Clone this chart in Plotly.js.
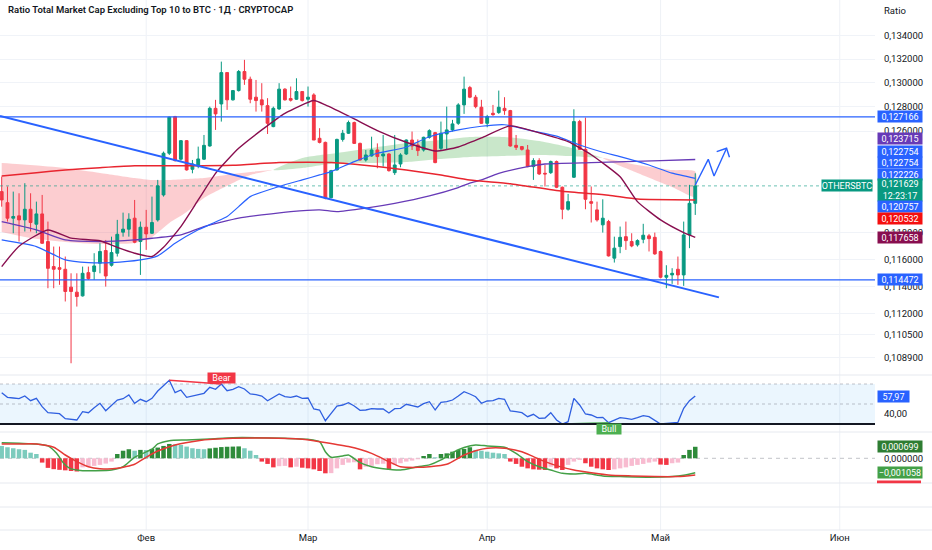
<!DOCTYPE html>
<html><head><meta charset="utf-8">
<script src="https://cdn.plot.ly/plotly-3.0.1.min.js"></script>
<style>html,body{margin:0;padding:0;background:#fff;}#chart{width:932px;height:550px;}</style>
</head><body><div id="chart"></div>
<script>
// ---------- DATA ----------
const firstDay = '2025-01-07';
const opens = [0.12118,0.12032,0.11912,0.11930,0.11899,0.11981,0.11866,0.11945,0.11734,0.11546,
0.11538,0.11526,0.11394,0.11357,0.11330,0.11501,0.11509,0.11571,0.11666,0.11556,
0.11646,0.11805,0.11828,0.11912,0.11734,0.11843,0.11797,0.11899,0.12092,0.12422,
0.12719,0.12374,0.12523,0.12294,0.12321,0.12374,0.12480,0.12787,0.12823,0.13085,
0.12857,0.12934,0.13094,0.13029,0.12879,0.12857,0.12809,0.12637,0.12782,0.12946,
0.12868,0.12862,0.12926,0.12862,0.12898,0.12542,0.12509,0.12071,0.12289,0.12533,
0.12583,0.12670,0.12501,0.12368,0.12400,0.12448,0.12400,0.12416,0.12267,0.12336,
0.12416,0.12528,0.12488,0.12448,0.12550,0.12588,0.12461,0.12577,0.12610,0.12664,
0.12815,0.12959,0.12879,0.12796,0.12664,0.12746,0.12752,0.12787,0.12768,0.12485,
0.12475,0.12448,0.12315,0.12363,0.12262,0.12267,0.12355,0.12152,0.11981,0.12231,
0.12678,0.12453,0.12040,0.11976,0.11861,0.11886,0.11609,0.11696,0.11771,0.11734,
0.11709,0.11751,0.11777,0.11766,0.11659,0.11467,0.11484,0.11526,0.11484,0.11784,
0.12027];
const highs = [0.12236,0.12158,0.12118,0.12105,0.12184,0.12105,0.12040,0.12092,0.11886,0.11696,
0.11696,0.11621,0.11496,0.11496,0.11546,0.11546,0.11646,0.11721,0.11746,0.11771,
0.11899,0.11955,0.11950,0.12053,0.11886,0.11976,0.12079,0.12210,0.12435,0.12719,
0.12725,0.12528,0.12528,0.12368,0.12475,0.12569,0.12801,0.12857,0.13178,0.13085,
0.12939,0.13107,0.13193,0.13051,0.13023,0.12996,0.12871,0.12801,0.12996,0.12954,
0.12968,0.13037,0.12926,0.12968,0.12912,0.12624,0.12515,0.12289,0.12539,0.12610,
0.12686,0.12678,0.12507,0.12448,0.12555,0.12501,0.12569,0.12422,0.12569,0.12422,
0.12533,0.12597,0.12533,0.12555,0.12615,0.12594,0.12678,0.12801,0.12692,0.12829,
0.13051,0.12973,0.12898,0.12857,0.12733,0.12815,0.12934,0.12879,0.12774,0.12569,
0.12480,0.12488,0.12382,0.12382,0.12328,0.12363,0.12363,0.12158,0.12100,0.12779,
0.12692,0.12711,0.12158,0.12040,0.12058,0.11899,0.11771,0.11848,0.11886,0.11797,
0.11751,0.11869,0.11792,0.11802,0.11666,0.11556,0.11534,0.11621,0.11886,0.12171,
0.12262];
const lows = [0.12001,0.11886,0.11797,0.11734,0.11810,0.11810,0.11797,0.11716,0.11386,0.11386,
0.11411,0.11289,0.10848,0.11252,0.11325,0.11447,0.11447,0.11496,0.11398,0.11546,
0.11621,0.11771,0.11771,0.11721,0.11484,0.11671,0.11792,0.11886,0.12079,0.12408,
0.12355,0.12363,0.12283,0.12262,0.12302,0.12368,0.12475,0.12610,0.12678,0.12774,
0.12851,0.12926,0.12982,0.12829,0.12760,0.12760,0.12577,0.12632,0.12774,0.12851,
0.12843,0.12857,0.12843,0.12801,0.12528,0.12501,0.12058,0.12066,0.12283,0.12515,
0.12577,0.12496,0.12363,0.12355,0.12395,0.12302,0.12315,0.12275,0.12249,0.12310,
0.12408,0.12448,0.12400,0.12435,0.12539,0.12342,0.12448,0.12453,0.12597,0.12651,
0.12741,0.12871,0.12787,0.12659,0.12632,0.12725,0.12741,0.12733,0.12475,0.12448,
0.12443,0.12310,0.12210,0.12249,0.12158,0.12257,0.12145,0.11904,0.11970,0.12225,
0.12448,0.11981,0.11879,0.11886,0.11802,0.11621,0.11576,0.11646,0.11671,0.11691,
0.11696,0.11721,0.11659,0.11634,0.11459,0.11386,0.11418,0.11411,0.11403,0.11684,
0.11937];
const closes = [0.12053,0.11912,0.11925,0.11899,0.11981,0.11879,0.11945,0.11721,0.11533,0.11526,
0.11526,0.11362,0.11362,0.11325,0.11496,0.11457,0.11551,0.11659,0.11476,0.11651,
0.11789,0.11828,0.11904,0.11729,0.11843,0.11792,0.11879,0.12163,0.12422,0.12714,
0.12363,0.12523,0.12289,0.12336,0.12376,0.12485,0.12787,0.12741,0.13085,0.12857,
0.12934,0.13094,0.13029,0.12862,0.12851,0.12815,0.12664,0.12787,0.12946,0.12857,
0.12854,0.12926,0.12851,0.12879,0.12528,0.12509,0.12066,0.12283,0.12533,0.12583,
0.12670,0.12501,0.12368,0.12408,0.12448,0.12395,0.12416,0.12283,0.12328,0.12408,
0.12528,0.12480,0.12443,0.12550,0.12604,0.12347,0.12583,0.12610,0.12659,0.12815,
0.12946,0.12879,0.12801,0.12664,0.12719,0.12735,0.12796,0.12768,0.12480,0.12469,
0.12453,0.12315,0.12363,0.12257,0.12257,0.12355,0.12152,0.11981,0.12040,0.12678,
0.12453,0.12058,0.12027,0.11899,0.11912,0.11626,0.11684,0.11766,0.11741,0.11701,
0.11741,0.11782,0.11756,0.11641,0.11467,0.11481,0.11496,0.11484,0.11784,0.12027,
0.121629];

const rsiValues = [61.3,56.7,56,55.3,58,53.3,55.7,47.3,41.3,40.7,
40.3,35.3,35,34,42.3,41.3,46.3,50.7,43.3,49,
54,55.3,59,50.7,54.7,52.3,55.7,63,68.7,73.7,
61.3,64,56.7,58,59,60.7,66.7,64.7,70,63.3,
64.7,67.3,65,60,59.3,58,53.3,56.3,60,57.3,
56.7,58,55.7,56,45,44,33.3,40.7,48,49,
51.3,48,43.7,44,45.3,45,45,41,45.3,45.7,
49.7,48.3,47,50.3,52.3,44,51.7,52.3,54,58,
62.3,60,57.3,50.7,53,53.3,55.7,54.7,43,42.3,
41.3,37.3,39.7,35.7,36,41.3,34,30,32.3,55.7,
49,40,39,36.3,36.7,31.3,34,36.3,35.7,34.7,
36.3,38.3,37.3,34,30,30.7,31.3,31.7,45.7,53.3,
57.97];

const macdHist = [0.00075,0.00067,0.00061,0.00055,0.00051,0.00034,0.00026,-0.00026,-0.00058,-0.00066,
-0.0007,-0.00073,-0.00077,-0.0008,-0.00055,-0.0005,-0.00046,-0.0004,-0.00032,-0.0002,
0.00026,0.00046,0.00055,0.00046,0.00051,0.0005,0.00057,0.00065,0.00075,0.00087,
0.00085,0.00081,0.00071,0.00061,0.00057,0.00055,0.0006,0.00064,0.00068,0.0007,
0.00071,0.00072,0.00061,0.00046,0.0002,-0.0002,-0.00034,-0.00055,-0.00048,-0.00046,
-0.00055,-0.00051,-0.00057,-0.00061,-0.00067,-0.00077,-0.00091,-0.0009,-0.00061,-0.0004,
-0.00026,-0.00024,-0.00067,-0.00051,-0.00046,-0.00036,-0.00033,-0.00067,-0.0004,-0.0003,
-0.0002,-0.00014,-0.00006,0.00014,0.00026,0.00006,0.00026,0.0003,0.0004,0.00051,
0.00057,0.00067,0.00051,0.00046,0.0004,0.00034,0.0003,0.00026,-0.0002,-0.00034,
-0.00051,-0.00061,-0.00067,-0.00069,-0.00071,-0.00051,-0.00061,-0.00071,-0.0004,-0.0002,
-0.0001,-0.0003,-0.00051,-0.00061,-0.00067,-0.00071,-0.00067,-0.00061,-0.00055,-0.00046,
-0.0004,-0.00034,-0.00026,-0.0002,-0.00038,-0.0004,-0.0003,-0.00026,0.0002,0.00051,
0.000699];

const macdDates = ['2025-01-07','2025-01-10','2025-01-13','2025-01-15','2025-01-16 12:00','2025-01-17 17:00','2025-01-18 19:00','2025-01-21','2025-01-23','2025-01-26','2025-01-28','2025-01-30','2025-02-02','2025-02-03','2025-02-05','2025-02-08','2025-02-12','2025-02-16','2025-02-20','2025-02-25','2025-03-01','2025-03-03','2025-03-04','2025-03-05','2025-03-07','2025-03-08','2025-03-10','2025-03-12','2025-03-14','2025-03-17','2025-03-20','2025-03-22','2025-03-24','2025-03-26','2025-03-28','2025-03-30','2025-04-01','2025-04-04','2025-04-06','2025-04-08','2025-04-10','2025-04-12','2025-04-14','2025-04-16','2025-04-18','2025-04-21','2025-04-24','2025-04-29','2025-05-03','2025-05-05','2025-05-07'];
const macdLine = [0.00095,0.00091,0.00087,0.00075,0.0003,-0.0003,-0.00061,-0.00075,-0.00075,-0.00071,-0.00051,0.00006,0.00055,0.00087,0.00107,0.00111,0.00117,0.00125,0.00125,0.00121,0.00115,0.00101,0.0004,0.00006,0.00014,0.0002,-0.00026,-0.00051,-0.00063,-0.00071,-0.00051,-0.0004,-0.0001,0.00034,0.00065,0.00081,0.00075,0.00067,0.0003,-0.0002,-0.00051,-0.00071,-0.00091,-0.00095,-0.00091,-0.00107,-0.00111,-0.00115,-0.00111,-0.00103,-0.00087];
const signalDates = ['2025-01-07','2025-01-10','2025-01-13','2025-01-16','2025-01-18','2025-01-20','2025-01-22','2025-01-24','2025-01-27','2025-01-30','2025-02-01','2025-02-03','2025-02-06','2025-02-10','2025-02-16','2025-02-22','2025-02-28','2025-03-03','2025-03-08','2025-03-12','2025-03-15','2025-03-17','2025-03-20','2025-03-22','2025-03-25','2025-03-28','2025-03-30','2025-04-01','2025-04-04','2025-04-07','2025-04-09','2025-04-11','2025-04-14','2025-04-16','2025-04-19','2025-04-22','2025-04-26','2025-04-30','2025-05-04','2025-05-07'];
const signalLine = [0.00087,0.00087,0.00087,0.00067,0.0002,-0.0002,-0.00051,-0.00063,-0.00061,-0.00036,0.00006,0.00044,0.00081,0.00107,0.00121,0.00123,0.00115,0.00101,0.00071,0.0003,-0.0002,-0.00051,-0.00055,-0.00051,-0.00036,0.0002,0.00046,0.00061,0.00061,0.0004,0.0001,-0.0002,-0.00055,-0.00071,-0.00087,-0.00101,-0.00107,-0.00111,-0.00111,-0.00101];

const ma200Dates = ['2025-01-07','2025-01-13','2025-01-18','2025-01-24','2025-01-30','2025-02-05','2025-02-16','2025-02-24','2025-03-05','2025-03-13','2025-03-18','2025-03-24','2025-03-29','2025-04-05','2025-04-14','2025-04-22','2025-04-27','2025-05-07'];
const ma200 = [0.12241,0.12267,0.12289,0.12306,0.12321,0.12321,0.12326,0.12347,0.12347,0.12315,0.12288,0.12249,0.12209,0.1218,0.1212,0.1209,0.1206,0.120532];

const ema20Dates = ['2025-01-07','2025-01-10','2025-01-15','2025-01-19','2025-01-24','2025-01-27','2025-01-30','2025-02-02','2025-02-04','2025-02-07','2025-02-10','2025-02-13','2025-02-17','2025-02-21','2025-02-25','2025-03-02','2025-03-04','2025-03-09','2025-03-13','2025-03-18','2025-03-23','2025-03-27','2025-03-31','2025-04-05','2025-04-10','2025-04-15','2025-04-19','2025-04-24','2025-04-27','2025-05-01','2025-05-05','2025-05-07'];
const ema20 = [0.11546,0.11699,0.11822,0.11760,0.11740,0.11690,0.11646,0.11621,0.11690,0.11848,0.12053,0.12262,0.12461,0.12610,0.12746,0.12851,0.12815,0.12700,0.12605,0.12510,0.12440,0.12472,0.12545,0.12643,0.12586,0.12515,0.12410,0.12235,0.12040,0.11899,0.11802,0.117658];

const ema50Dates = ['2025-01-07','2025-01-13','2025-01-18','2025-01-22','2025-01-26','2025-01-31','2025-02-03','2025-02-06','2025-02-10','2025-02-15','2025-02-17','2025-02-19','2025-02-24','2025-02-28','2025-03-03','2025-03-05','2025-03-09','2025-03-13','2025-03-18','2025-03-22','2025-03-27','2025-03-31','2025-04-04','2025-04-09','2025-04-13','2025-04-17','2025-04-21','2025-04-24','2025-04-29','2025-05-03','2025-05-07'];
const ema50 = [0.11746,0.11696,0.11596,0.11576,0.11576,0.11596,0.11626,0.11721,0.11823,0.11925,0.12001,0.12079,0.12158,0.12210,0.12249,0.12275,0.12355,0.12422,0.12470,0.12555,0.12610,0.12640,0.12652,0.12600,0.12560,0.12488,0.12430,0.12395,0.12328,0.12263,0.122226];

const ma100Dates = ['2025-01-07','2025-01-13','2025-01-18','2025-01-24','2025-01-30','2025-02-02','2025-02-07','2025-02-11','2025-02-17','2025-02-21','2025-02-26','2025-03-03','2025-03-06','2025-03-11','2025-03-16','2025-03-22','2025-03-27','2025-03-29','2025-03-31','2025-04-03','2025-04-08','2025-04-11','2025-04-19','2025-04-25','2025-05-01','2025-05-07'];
const ma100 = [0.11886,0.11823,0.11746,0.11734,0.11746,0.11759,0.11784,0.11848,0.11912,0.11937,0.11963,0.11976,0.11963,0.11990,0.12027,0.12085,0.12150,0.12184,0.12210,0.12262,0.12315,0.12336,0.12347,0.12355,0.12363,0.123715];

const cloudDates = ['2025-01-07','2025-01-12','2025-01-18','2025-01-24','2025-01-30','2025-02-02','2025-02-05','2025-02-08','2025-02-11','2025-02-16','2025-02-19','2025-02-23','2025-02-28','2025-03-06','2025-03-12','2025-03-18','2025-03-24','2025-03-29','2025-04-04','2025-04-10','2025-04-15','2025-04-18','2025-04-21','2025-04-27','2025-05-03','2025-05-07'];
const cloudFast = [0.11807,0.11761,0.11731,0.11716,0.11723,0.11769,0.11876,0.11960,0.12069,0.12186,0.12249,0.12288,0.12384,0.12424,0.12464,0.12504,0.12528,0.12553,0.12553,0.12520,0.12472,0.12432,0.12384,0.12265,0.12154,0.120757];
const cloudSlow = [0.12344,0.12328,0.12304,0.12265,0.12225,0.12209,0.12209,0.12217,0.12225,0.12257,0.12273,0.12288,0.12304,0.12344,0.12344,0.12352,0.12376,0.12392,0.12400,0.12408,0.12400,0.12392,0.12384,0.12328,0.12288,0.122754];

const levelHigh = 0.127166;
const levelLow = 0.114472;
const trendDates = ['2025-01-06 16:57','2025-05-11 02:24'];
const trendVals = [0.12724,0.11319];
const arrowDates = ['2025-05-07','2025-05-09 06:00','2025-05-10 06:00','2025-05-12 10:00'];
const arrowVals = [0.1217,0.12373,0.12241,0.12462];
const arrowHeadDates = ['2025-05-10 17:00','2025-05-12 10:00','2025-05-12 22:00'];
const arrowHeadVals = [0.12434,0.12462,0.12389];

// ticks 0.124 / 0.122 / 0.120 sit fully under the price labels in the reference
const priceTicks = [0.134,0.132,0.130,0.128,0.126,0.118,0.116,0.114,0.112,0.1105,0.1089];
const monthTicks = ['2025-02-01','2025-03-01','2025-04-01','2025-05-01','2025-06-01'];
const monthLabels = ['Фев','Мар','Апр','Май','Июн'];

const lblEma100b = 0.122754, lblEma100c = 0.122754;
const macdLastLabel = -0.001058;

// ---------- BUILD ----------
const X0 = '2025-01-06 16:57', X1 = '2025-06-07 02:24';
const LOGR = [-0.96794, -0.86289];
function dayStr(n){ return new Date(Date.parse(firstDay+'T00:00:00Z') + n*864e5).toISOString().slice(0,10); }
const dates = opens.map((_,i)=>dayStr(i));
const fmt6 = v => (v<0?'−':'') + Math.abs(v).toFixed(6).replace('.',',');

const traces = [];
(function(){
  let seg = null; const segs=[];
  for(let i=0;i<cloudDates.length;i++){
    const d = cloudFast[i]-cloudSlow[i];
    const s = Math.abs(d)<1e-9?0:(d>0?1:-1);
    if(!seg){ seg={sign:s, idx:[i]}; continue; }
    seg.idx.push(i);
    if(seg.sign===0) seg.sign=s;
    if(s===0){ segs.push(seg); seg={sign:0, idx:[i]}; }
  }
  if(seg && seg.idx.length>1) segs.push(seg);
  segs.forEach(sg=>{
    const xs = sg.idx.map(i=>cloudDates[i]).concat(sg.idx.slice().reverse().map(i=>cloudDates[i]));
    const ys = sg.idx.map(i=>cloudFast[i]).concat(sg.idx.slice().reverse().map(i=>cloudSlow[i]));
    traces.push({type:'scatter', mode:'lines', x:xs, y:ys, xaxis:'x', yaxis:'y', fill:'toself',
      fillcolor: sg.sign>0 ? 'rgba(76,175,80,0.30)' : 'rgba(242,54,69,0.25)',
      line:{width:0, shape:'spline', smoothing:0.6}, hoverinfo:'skip'});
  });
})();

traces.push({type:'candlestick', x:dates, open:opens, high:highs, low:lows, close:closes,
  xaxis:'x', yaxis:'y4', whiskerwidth:0, hoverinfo:'skip',
  increasing:{line:{color:'#089981', width:1}, fillcolor:'#089981'},
  decreasing:{line:{color:'#f23645', width:1}, fillcolor:'#f23645'}});

const lineT = (x,y,color,w,extra={}) => Object.assign({type:'scatter', mode:'lines', x, y, xaxis:'x', yaxis:'y4',
  line:{color, width:w, shape:'spline', smoothing:0.5}, hoverinfo:'skip'}, extra);

traces.push(lineT([X0,X1],[closes[closes.length-1],closes[closes.length-1]],'rgba(8,153,129,0.6)',1,{line:{color:'rgba(8,153,129,0.6)',width:1,dash:'dot'}}));
traces.push(lineT(ma100Dates, ma100, '#673ab7', 1.3));
traces.push(lineT(ma200Dates, ma200, '#e8252f', 1.5));
traces.push(lineT(ema50Dates, ema50, '#2962ff', 1.2));
traces.push(lineT(ema20Dates, ema20, '#880e4f', 1.4));
traces.push(lineT([X0,X1],[levelHigh,levelHigh],'#2962ff',1.3,{line:{color:'#2962ff',width:1.3}}));
traces.push(lineT([X0,X1],[levelLow,levelLow],'#2962ff',1.3,{line:{color:'#2962ff',width:1.3}}));
traces.push(lineT(trendDates, trendVals, '#2962ff', 2, {line:{color:'#2962ff',width:2}}));
traces.push(lineT(arrowDates, arrowVals, '#2962ff', 1.4, {line:{color:'#2962ff',width:1.4}}));
traces.push(lineT(arrowHeadDates, arrowHeadVals, '#2962ff', 1.4, {line:{color:'#2962ff',width:1.4}}));

// RSI
traces.push({type:'scatter', mode:'lines', x:dates, y:rsiValues, xaxis:'x', yaxis:'y2',
  line:{color:'#2f5fe0', width:1.3}, hoverinfo:'skip'});
traces.push({type:'scatter', mode:'lines', x:[dates[29],dates[38]], y:[rsiValues[29],rsiValues[38]], xaxis:'x', yaxis:'y2',
  line:{color:'#f23645', width:1.4}, hoverinfo:'skip'});
traces.push({type:'scatter', mode:'lines', x:[dates[97],dates[105]], y:[rsiValues[97],rsiValues[105]], xaxis:'x', yaxis:'y2',
  line:{color:'#4caf50', width:1.6}, hoverinfo:'skip'});

// MACD
const histColors = macdHist.map((v,i)=>{
  const p = i>0 ? macdHist[i-1] : Infinity;
  if(v>=0) return v>p ? '#2e8b3a' : '#7ccbbd';
  return v<p ? '#f23645' : '#f8bbd0';
});
traces.push({type:'bar', x:dates, y:macdHist, xaxis:'x', yaxis:'y3', marker:{color:histColors, line:{width:0}}, hoverinfo:'skip'});
traces.push({type:'scatter', mode:'lines', x:macdDates, y:macdLine, xaxis:'x', yaxis:'y3',
  line:{color:'#43a047', width:1.5, shape:'spline', smoothing:0.6}, hoverinfo:'skip'});
traces.push({type:'scatter', mode:'lines', x:signalDates, y:signalLine, xaxis:'x', yaxis:'y3',
  line:{color:'#e53935', width:1.5, shape:'spline', smoothing:0.6}, hoverinfo:'skip'});

// ---------- LAYOUT ----------
const H = 530; const py = px => (H-px)/H;
const shapes = [];
monthTicks.forEach(m=>shapes.push({type:'line', xref:'x', yref:'paper', x0:m, x1:m, y0:0, y1:1, line:{color:'#eef1f6', width:1}, layer:'below'}));
shapes.push({type:'rect', xref:'paper', x0:0, x1:1, yref:'y2', y0:30, y1:70, fillcolor:'rgba(33,150,243,0.09)', line:{width:0}, layer:'below'});
shapes.push({type:'line', xref:'paper', x0:0, x1:1, yref:'y2', y0:70, y1:70, line:{color:'rgba(120,123,134,0.45)', width:1, dash:'3px,3px'}, layer:'below'});
shapes.push({type:'line', xref:'paper', x0:0, x1:1, yref:'y2', y0:50, y1:50, line:{color:'rgba(120,123,134,0.45)', width:1, dash:'3px,3px'}, layer:'below'});
shapes.push({type:'line', xref:'paper', x0:0, x1:1, yref:'y2', y0:30, y1:30, line:{color:'#131722', width:2}});
shapes.push({type:'line', xref:'paper', x0:0, x1:1, yref:'y3', y0:0, y1:0, line:{color:'rgba(120,123,134,0.45)', width:1, dash:'4px,4px'}, layer:'below'});
[375,432,483,507,530].forEach(p=>shapes.push({type:'line', xref:'paper', x0:0, x1:932/875, yref:'paper', y0:py(p), y1:py(p), line:{color:'#e6e9ef', width:1}}));
shapes.push({type:'rect', xref:'paper', x0:1+2/875, x1:1+46/875, yref:'paper', y0:py(483.3), y1:py(480.6), fillcolor:'#f23645', line:{width:0}});

const ann = [];
const lab = (v, bg, yref, shift, text, extra={}) => Object.assign({
  xref:'paper', x:1, xanchor:'left', xshift:2, yref:yref, y: yref==='y' ? Math.log10(v) : v,
  yanchor:'middle', yshift:shift, text:text, showarrow:false, bgcolor:bg, borderpad:0,
  width:44, height:11, align:'center', font:{color:'#ffffff', size:9}}, extra);
ann.push(lab(levelHigh,'#2962ff','y',0,fmt6(levelHigh)));
ann.push(lab(ma100[ma100.length-1],'#673ab7','y',21,fmt6(ma100[ma100.length-1])));
ann.push(lab(lblEma100b,'#2962ff','y',20.6,fmt6(lblEma100b)));
ann.push(lab(lblEma100c,'#2962ff','y',9,fmt6(lblEma100c)));
ann.push(lab(ema50[ema50.length-1],'#2962ff','y',4,fmt6(ema50[ema50.length-1])));
const lastC = closes[closes.length-1];
ann.push(lab(lastC,'#089981','y',-4.6,fmt6(lastC)+'<br>12:23:17',{height:22}));
ann.push(lab(lastC,'#089981','y',0,'OTHERSBTC',{xanchor:'right', xshift:-2, width:50}));
ann.push(lab(cloudFast[cloudFast.length-1],'#2962ff','y',-9.6,fmt6(cloudFast[cloudFast.length-1])));
ann.push(lab(ma200[ma200.length-1],'#f50f0f','y',-19,fmt6(ma200[ma200.length-1])));
ann.push(lab(ema20[ema20.length-1],'#880e4f','y',0,fmt6(ema20[ema20.length-1])));
ann.push(lab(levelLow,'#2962ff','y',0,fmt6(levelLow)));
ann.push(lab(rsiValues[rsiValues.length-1],'#2962ff','y2',0,rsiValues[rsiValues.length-1].toFixed(2).replace('.',','),{width:31}));
ann.push(lab(macdHist[macdHist.length-1],'#2e7d32','y3',0,fmt6(macdHist[macdHist.length-1])));
ann.push(lab(macdLastLabel,'#43a047','y3',3.5,fmt6(macdLastLabel)));
ann.push({xref:'x', x:dates[38], yref:'y2', y:76.5, text:'Bear', showarrow:false, bgcolor:'#f23645', font:{color:'#fff', size:9}, borderpad:0, width:27, height:10});
ann.push({xref:'x', x:dates[105], yref:'y2', y:25.5, text:'Bull', showarrow:false, bgcolor:'#4caf50', font:{color:'#fff', size:9}, borderpad:0, width:24, height:10});
ann.push({xref:'paper', x:6/875, xanchor:'left', yref:'paper', y:py(10), yanchor:'middle', showarrow:false,
  text:'Ratio Total Market Cap Excluding Top 10 to BTC · 1Д · CRYPTOCAP', font:{size:9.5, color:'#131722', weight:600}});
ann.push({xref:'paper', x:1, xanchor:'left', xshift:7, yref:'paper', y:py(11), yanchor:'middle', showarrow:false,
  text:'Ratio', font:{size:9.5, color:'#131722'}});

const axR = {side:'right', anchor:'x', zeroline:false, showline:false, ticks:'outside', ticklen:6, tickcolor:'rgba(0,0,0,0)', fixedrange:true};
const layout = {
  width:932, height:550, margin:{l:0, r:57, t:0, b:20},
  paper_bgcolor:'#ffffff', plot_bgcolor:'#ffffff', separators:', ',
  font:{family:'Roboto, "Noto Sans", sans-serif', size:9.5, color:'#131722'},
  showlegend:false, hovermode:false, dragmode:false, bargap:0.22,
  xaxis:{type:'date', range:[X0,X1], anchor:'free', position:0, domain:[0,1], tickmode:'array', tickvals:monthTicks, ticktext:monthLabels,
    showgrid:false, zeroline:false, showline:false, ticks:'', rangeslider:{visible:false}, fixedrange:true, tickfont:{size:9.5, color:'#131722'}},
  yaxis:Object.assign({domain:[py(375),1], type:'log', range:LOGR, tickmode:'array', tickvals:priceTicks, tickformat:'.6f', showgrid:true, gridcolor:'#f0f3f8'}, axR),
  yaxis4:{overlaying:'y', type:'log', range:LOGR, anchor:'x', side:'right', visible:false, showgrid:false, fixedrange:true},
  yaxis2:Object.assign({domain:[py(432),py(375)], range:[22,79], tickmode:'array', tickvals:[40], tickformat:'.2f', showgrid:false}, axR),
  yaxis3:Object.assign({domain:[py(483),py(432)], range:[-0.001497,0.001594], tickmode:'array', tickvals:[0], tickformat:'.6f', showgrid:false}, axR),
  shapes:shapes, annotations:ann
};
Plotly.newPlot('chart', traces, layout, {staticPlot:true, displayModeBar:false});
</script>
</body></html>
